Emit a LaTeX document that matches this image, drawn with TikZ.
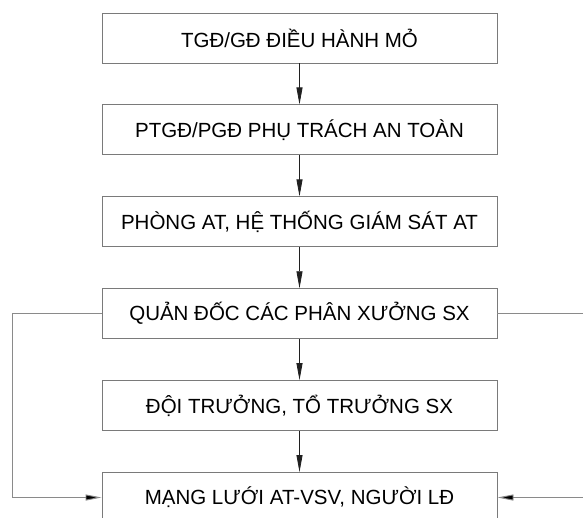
\documentclass[tikz,border=0pt]{standalone}
\usepackage{fontspec}
\setmainfont{Liberation Sans}
\usetikzlibrary{arrows.meta, positioning}
\definecolor{cframe}{HTML}{7A7A7A}
\definecolor{cline}{HTML}{8A8A8A}
\definecolor{carrow}{HTML}{202020}
\tikzset{
  every picture/.style={line width=0.9pt},
  unit/.style={draw=cframe, minimum width=395pt, minimum height=50pt, inner sep=0pt, font=\fontsize{20.5}{24}\selectfont},
  flow/.style={-{Triangle[length=17pt, width=6pt]}, draw=carrow, line width=0.8pt},
  side/.style={draw=cline, line width=0.9pt},
  sidearrow/.style={side, -{Triangle[length=16pt, width=6pt, fill=black]}},
}
\begin{document}
\begin{tikzpicture}[x=1pt, y=-1pt, node distance=41pt]
  \useasboundingbox (0,0) rectangle (583,517);
  \clip (0,0) rectangle (583,517);
  \node[unit] (tgd) at (299.5,38) {TGĐ/GĐ ĐIỀU HÀNH MỎ};
  \node[unit, below=of tgd] (ptgd) {PTGĐ/PGĐ PHỤ TRÁCH AN TOÀN};
  \node[unit, below=of ptgd] (phong) {PHÒNG AT, HỆ THỐNG GIÁM SÁT AT};
  \node[unit, below=of phong] (qd) {QUẢN ĐỐC CÁC PHÂN XƯỞNG SX};
  \node[unit, below=of qd] (doi) {ĐỘI TRƯỞNG, TỔ TRƯỞNG SX};
  \node[unit, below=of doi] (mang) {MẠNG LƯỚI AT-VSV, NGƯỜI LĐ};
  % chain down the middle
  \foreach \a/\b in {tgd/ptgd, ptgd/phong, phong/qd, qd/doi, doi/mang}
    \draw[flow] (\a) -- (\b);
  % side loops
  \coordinate (lx) at (12,0);
  \coordinate (rx) at (583,0);
  \coordinate (lb) at (mang.west -| lx);
  \coordinate (rt) at (qd.east -| rx);
  \coordinate (rb) at (mang.east -| rx);
  \draw[side] (qd.west) -| (lb);
  \draw[sidearrow] (lb) -- (mang.west);
  \draw[side] (qd.east) -- (rt);
  \draw[sidearrow] (rb) -- (mang.east);
\end{tikzpicture}
\end{document}
